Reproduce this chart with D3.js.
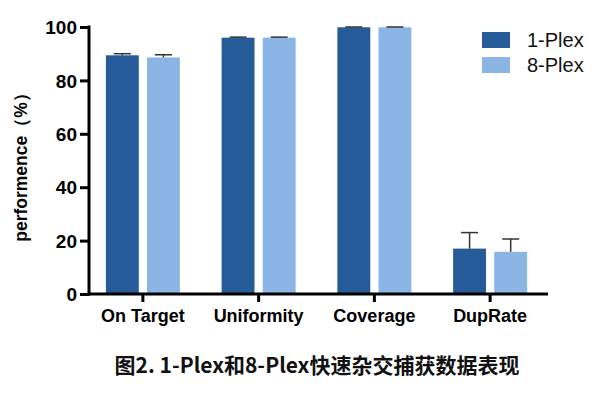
<html>
<head>
<meta charset="utf-8">
<style>
  body { margin: 0; background: #fff; }
  svg { display: block; }
  .axis-label { font-family: "Liberation Sans", Arial, sans-serif; font-weight: bold; font-size: 18px; fill: #000; }
  .legend text { font-family: "Liberation Sans", Arial, sans-serif; font-size: 20px; fill: #111; }
  .caption { font-family: "Noto Sans CJK SC", sans-serif; font-weight: bold; font-size: 21px; fill: #111; }
</style>
</head>
<body>
<svg width="600" height="394"></svg>
<script src="https://d3js.org/d3.v7.min.js"></script>
<script>
// data
var categories = ['On Target', 'Uniformity', 'Coverage', 'DupRate'];
var series = ['1-Plex', '8-Plex'];
var plex1 = [89.4, 96.0, 99.9, 17.0];
var plex1Err = [0.6, 0.2, 0.1, 6.0];
var plex8 = [88.6, 96.0, 99.9, 15.8];
var plex8Err = [1.0, 0.2, 0.1, 4.8];
var yTicks = [0, 20, 40, 60, 80, 100];
var colors = ['#245b98', '#8bb5e4'];

var rows = [];
categories.forEach(function(c, i) {
  rows.push({cat: c, s: series[0], v: plex1[i], e: plex1Err[i]});
  rows.push({cat: c, s: series[1], v: plex8[i], e: plex8Err[i]});
});

var svg = d3.select('svg');

var y = d3.scaleLinear().domain([0, 100]).range([294, 27]);
var x0 = d3.scaleBand().domain(categories).range([85, 548]);
var x1 = d3.scaleBand().domain(series).range([-37, 37]).paddingInner(0.2);
var color = d3.scaleOrdinal().domain(series).range(colors);

function cx(c) { return x0(c) + x0.bandwidth() / 2; }

// bars
svg.append('g').selectAll('rect')
  .data(rows)
  .enter()
  .append('rect')
  .attr('x', function(d) { return cx(d.cat) + x1(d.s); })
  .attr('y', function(d) { return y(d.v); })
  .attr('width', x1.bandwidth())
  .attr('height', function(d) { return y(0) - y(d.v); })
  .style('fill', function(d) { return color(d.s); });

// error bars (upper only)
var eb = svg.append('g').attr('stroke', '#333').attr('stroke-width', 1.5);
rows.forEach(function(d) {
  var mx = cx(d.cat) + x1(d.s) + x1.bandwidth() / 2;
  eb.append('line').attr('x1', mx).attr('x2', mx).attr('y1', y(d.v)).attr('y2', y(d.v + d.e));
  eb.append('line').attr('x1', mx - 8.5).attr('x2', mx + 8.5).attr('y1', y(d.v + d.e)).attr('y2', y(d.v + d.e));
});

// y axis
var yAxis = d3.axisLeft(y).tickValues(yTicks).tickSize(9).tickPadding(3);
var yg = svg.append('g').attr('transform', 'translate(89,0)').call(yAxis);
yg.select('.domain').remove();
yg.append('line').attr('x1', 0).attr('x2', 0).attr('y1', y(100) - 1.5).attr('y2', y(0) + 1.5)
  .attr('stroke', '#000').attr('stroke-width', 3);
yg.selectAll('.tick line').attr('stroke', '#000').attr('stroke-width', 3);
yg.selectAll('.tick text').attr('class', 'axis-label').style('font-size', '19px').attr('dy', '0.35em');

// x axis
var xAxis = d3.axisBottom(x0).tickSize(8).tickPadding(7);
var xg = svg.append('g').attr('transform', 'translate(0,' + y(0) + ')').call(xAxis);
xg.select('.domain').remove();
xg.append('line').attr('x1', 87.5).attr('x2', 548).attr('y1', 0).attr('y2', 0)
  .attr('stroke', '#000').attr('stroke-width', 3);
xg.selectAll('.tick line').attr('stroke', '#000').attr('stroke-width', 3);
xg.selectAll('.tick text').attr('class', 'axis-label');

// y title
svg.append('text')
  .attr('class', 'axis-label')
  .attr('transform', 'translate(27,' + 163 + ') rotate(-90)')
  .attr('text-anchor', 'middle')
  .style('font-size', '17.5px')
  .text('performence（%）');

// legend
var lg = svg.append('g').attr('class', 'legend');
series.forEach(function(s, i) {
  lg.append('rect').attr('x', 482).attr('y', 32 + i * 25).attr('width', 28).attr('height', 16).style('fill', color(s));
  lg.append('text').attr('x', 527).attr('y', 47 + i * 25).text(s);
});

// caption
svg.append('text')
  .attr('class', 'caption')
  .attr('x', 317)
  .attr('y', 373)
  .attr('text-anchor', 'middle')
  .text('图2. 1-Plex和8-Plex快速杂交捕获数据表现');
</script>
</body>
</html>
